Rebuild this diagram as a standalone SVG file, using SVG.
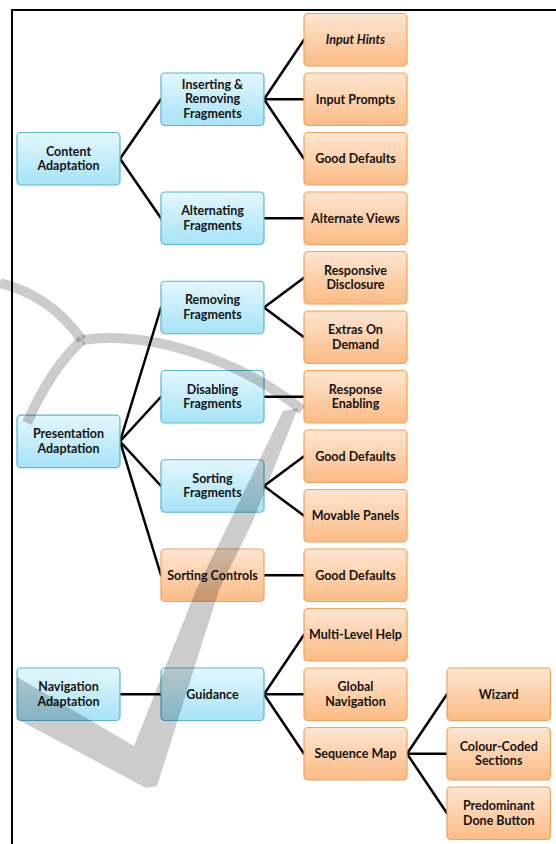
<svg xmlns="http://www.w3.org/2000/svg" width="556" height="844" viewBox="0 0 556 844">
<defs>
<linearGradient id="gB" x1="0" y1="0" x2="0" y2="1">
<stop offset="0" stop-color="#e4f7fd"/>
<stop offset="1" stop-color="#a6e3f7"/>
</linearGradient>
<linearGradient id="gO" x1="0" y1="0" x2="0" y2="1">
<stop offset="0" stop-color="#fee6d2"/>
<stop offset="1" stop-color="#fbbb84"/>
</linearGradient>
</defs>
<style>
.blue rect{fill:url(#gB);stroke:#5ab6d2;stroke-width:1.2}
.orange rect{fill:url(#gO);stroke:#f5a159;stroke-width:1.2}
.lbl{font-family:Lato,"Liberation Sans",sans-serif;font-size:12.5px;font-weight:bold;fill:#141414;text-anchor:middle}
.conn line{stroke:#000;stroke-width:2.5;stroke-linecap:round}
.wm{fill:#000;fill-opacity:0.2}
.wms{fill:none;stroke:#000;stroke-opacity:0.2;stroke-width:10}
</style>
<rect width="556" height="844" fill="#fff"/>
<path d="M12,844 V10 H556" fill="none" stroke="#000" stroke-width="2"/>

<g id="connectors" class="conn">
<line x1="120" y1="158.75" x2="161" y2="99.25"/>
<line x1="120" y1="158.75" x2="161" y2="218.25"/>
<line x1="264" y1="99.25" x2="304" y2="39.75"/>
<line x1="264" y1="99.25" x2="304" y2="99.25"/>
<line x1="264" y1="99.25" x2="304" y2="158.75"/>
<line x1="264" y1="218.25" x2="304" y2="218.25"/>
<line x1="120" y1="441.45" x2="161" y2="307.5"/>
<line x1="120" y1="441.45" x2="161" y2="396.75"/>
<line x1="120" y1="441.45" x2="161" y2="486"/>
<line x1="120" y1="441.45" x2="161" y2="575.25"/>
<line x1="264" y1="307.5" x2="304" y2="277.75"/>
<line x1="264" y1="307.5" x2="304" y2="337.25"/>
<line x1="264" y1="396.75" x2="304" y2="396.75"/>
<line x1="264" y1="486" x2="304" y2="456.25"/>
<line x1="264" y1="486" x2="304" y2="515.75"/>
<line x1="264" y1="575.25" x2="304" y2="575.25"/>
<line x1="120" y1="694.25" x2="161" y2="694.25"/>
<line x1="264" y1="694.25" x2="304" y2="634.75"/>
<line x1="264" y1="694.25" x2="304" y2="694.25"/>
<line x1="264" y1="694.25" x2="304" y2="753.75"/>
<line x1="407" y1="753.75" x2="447" y2="694.25"/>
<line x1="407" y1="753.75" x2="447" y2="753.75"/>
<line x1="407" y1="753.75" x2="447" y2="813.25"/>
</g>

<g id="n_content" class="blue"><rect x="17" y="132.5" width="103" height="52.5" rx="4"/><text class="lbl" x="68.5" y="155.5">Content</text><text class="lbl" x="68.5" y="170">Adaptation</text></g>
<g id="n_insert" class="blue"><rect x="161" y="73" width="103" height="52.5" rx="4"/><text class="lbl" x="212.5" y="88.5">Inserting &amp;</text><text class="lbl" x="212.5" y="103.25">Removing</text><text class="lbl" x="212.5" y="118">Fragments</text></g>
<g id="n_altfrag" class="blue"><rect x="161" y="192" width="103" height="52.5" rx="4"/><text class="lbl" x="212.5" y="215">Alternating</text><text class="lbl" x="212.5" y="229.5">Fragments</text></g>
<g id="n_present" class="blue"><rect x="17" y="415.2" width="103" height="52.5" rx="4"/><text class="lbl" x="68.5" y="438.2">Presentation</text><text class="lbl" x="68.5" y="452.7">Adaptation</text></g>
<g id="n_remove" class="blue"><rect x="161" y="281.25" width="103" height="52.5" rx="4"/><text class="lbl" x="212.5" y="304.25">Removing</text><text class="lbl" x="212.5" y="318.75">Fragments</text></g>
<g id="n_disable" class="blue"><rect x="161" y="370.5" width="103" height="52.5" rx="4"/><text class="lbl" x="212.5" y="393.5">Disabling</text><text class="lbl" x="212.5" y="408">Fragments</text></g>
<g id="n_sortfrag" class="blue"><rect x="161" y="459.75" width="103" height="52.5" rx="4"/><text class="lbl" x="212.5" y="482.75">Sorting</text><text class="lbl" x="212.5" y="497.25">Fragments</text></g>
<g id="n_sortctl" class="orange"><rect x="161" y="549" width="103" height="52.5" rx="4"/><text class="lbl" x="212.5" y="579.5">Sorting Controls</text></g>
<g id="n_nav" class="blue"><rect x="17" y="668" width="103" height="52.5" rx="4"/><text class="lbl" x="68.5" y="691">Navigation</text><text class="lbl" x="68.5" y="705.5">Adaptation</text></g>
<g id="n_guid" class="blue"><rect x="161" y="668" width="103" height="52.5" rx="4"/><text class="lbl" x="212.5" y="698.5">Guidance</text></g>

<g id="n_hints" class="orange"><rect x="304" y="13.5" width="103" height="52.5" rx="4"/><text class="lbl" x="355.5" y="44" font-style="italic">Input Hints</text></g>
<g id="n_prompts" class="orange"><rect x="304" y="73" width="103" height="52.5" rx="4"/><text class="lbl" x="355.5" y="103.5">Input Prompts</text></g>
<g id="n_defaults1" class="orange"><rect x="304" y="132.5" width="103" height="52.5" rx="4"/><text class="lbl" x="355.5" y="163">Good Defaults</text></g>
<g id="n_altviews" class="orange"><rect x="304" y="192" width="103" height="52.5" rx="4"/><text class="lbl" x="355.5" y="222.5">Alternate Views</text></g>
<g id="n_respdisc" class="orange"><rect x="304" y="251.5" width="103" height="52.5" rx="4"/><text class="lbl" x="355.5" y="274.5">Responsive</text><text class="lbl" x="355.5" y="289">Disclosure</text></g>
<g id="n_extras" class="orange"><rect x="304" y="311" width="103" height="52.5" rx="4"/><text class="lbl" x="355.5" y="334">Extras On</text><text class="lbl" x="355.5" y="348.5">Demand</text></g>
<g id="n_respen" class="orange"><rect x="304" y="370.5" width="103" height="52.5" rx="4"/><text class="lbl" x="355.5" y="393.5">Response</text><text class="lbl" x="355.5" y="408">Enabling</text></g>
<g id="n_defaults2" class="orange"><rect x="304" y="430" width="103" height="52.5" rx="4"/><text class="lbl" x="355.5" y="460.5">Good Defaults</text></g>
<g id="n_movable" class="orange"><rect x="304" y="489.5" width="103" height="52.5" rx="4"/><text class="lbl" x="355.5" y="520">Movable Panels</text></g>
<g id="n_defaults3" class="orange"><rect x="304" y="549" width="103" height="52.5" rx="4"/><text class="lbl" x="355.5" y="579.5">Good Defaults</text></g>
<g id="n_multihelp" class="orange"><rect x="304" y="608.5" width="103" height="52.5" rx="4"/><text class="lbl" x="355.5" y="639">Multi-Level Help</text></g>
<g id="n_globalnav" class="orange"><rect x="304" y="668" width="103" height="52.5" rx="4"/><text class="lbl" x="355.5" y="691">Global</text><text class="lbl" x="355.5" y="705.5">Navigation</text></g>
<g id="n_seqmap" class="orange"><rect x="304" y="727.5" width="103" height="52.5" rx="4"/><text class="lbl" x="355.5" y="758">Sequence Map</text></g>
<g id="n_wizard" class="orange"><rect x="447" y="668" width="103.5" height="52.5" rx="4"/><text class="lbl" x="498.75" y="698.5">Wizard</text></g>
<g id="n_colour" class="orange"><rect x="447" y="727.5" width="103.5" height="52.5" rx="4"/><text class="lbl" x="498.75" y="750.5">Colour-Coded</text><text class="lbl" x="498.75" y="765">Sections</text></g>
<g id="n_done" class="orange"><rect x="447" y="787" width="103.5" height="52.5" rx="4"/><text class="lbl" x="498.75" y="810">Predominant</text><text class="lbl" x="498.75" y="824.5">Done Button</text></g>

<g id="watermark">
<path class="wms" d="M0,283 Q50,295 82,340"/>
<path class="wms" d="M82,340 C150,330 240,360 302,410"/>
<path class="wms" d="M82,340 Q50,370 27,423"/>
<path class="wm" d="M17,677 L134,746 L196,590 L229,523 L283,411 L298,408 L252,523 L219,590 L157,786 L146,788 L17,719 Z"/>
</g>
</svg>
